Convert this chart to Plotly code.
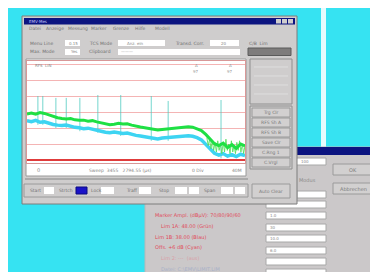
import plotly.graph_objects as go

W, H = 378, 272

# ---------------- data ----------------
freq_mhz = [0.0, 0.8, 1.6, 2.4, 3.2, 4.0, 4.8, 5.6, 6.4, 7.2, 8.0, 8.8, 9.6, 10.4, 11.2,
            12.0, 12.8, 13.6, 14.4, 15.2, 16.0, 16.8, 17.6, 18.4, 19.2, 20.0, 20.8, 21.6,
            22.4, 23.2, 24.0, 24.8, 25.6, 26.4, 27.2, 28.0, 28.8, 29.6, 30.4, 31.2, 32.0,
            32.8, 33.6, 34.4, 35.2, 36.0, 36.8, 37.6, 38.4, 39.2, 40.0]
green_level = [28.8, 29.3, 28.6, 29.6, 29.1, 28.2, 27.0, 26.4, 26.0, 25.7, 25.9, 25.1, 24.8,
               24.9, 24.3, 24.6, 23.8, 23.2, 22.6, 22.0, 22.4, 22.9, 22.5, 22.6, 21.8, 21.0,
               20.6, 20.2, 19.6, 19.1, 18.7, 19.0, 19.3, 19.2, 19.6, 19.9, 20.4, 20.8, 20.5,
               19.6, 18.4, 16.0, 12.8, 10.2, 9.0, 10.5, 7.8, 9.6, 7.2, 10.0, 8.8]
cyan_level = [24.5, 24.0, 24.8, 23.6, 23.9, 23.0, 22.2, 21.8, 21.5, 21.9, 21.0, 20.4, 20.1,
              19.6, 19.9, 19.1, 18.6, 18.0, 17.4, 17.0, 17.5, 17.2, 16.6, 16.9, 16.0, 15.4,
              15.0, 14.6, 14.0, 13.6, 13.2, 13.7, 14.0, 13.8, 14.3, 14.6, 15.0, 15.2, 14.8,
              14.0, 12.6, 10.0, 6.8, 4.2, 3.0, 4.0, 2.4, 3.4, 2.2, 3.6, 2.8]
fuzz_freq = [33.0, 33.25, 33.5, 33.75, 34.0, 34.25, 34.5, 34.75, 35.0, 35.25, 35.5, 35.75,
             36.0, 36.25, 36.5, 36.75, 37.0, 37.25, 37.5, 37.75, 38.0, 38.25, 38.5, 38.75,
             39.0, 39.25, 39.5, 39.75, 40.0]
fuzz_level = [14, 9, 13, 7, 12, 6, 11, 5, 12, 6, 10, 4, 11, 5, 13, 6, 10, 4, 12, 5,
              9, 4, 11, 6, 12, 5, 10, 4, 9]
spike_freq = [2.0, 2.9, 5.3, 7.2, 9.7, 13.0, 17.2, 22.8, 25.9, 35.6]
spike_top = [40.0, 40.0, 38.8, 38.8, 38.8, 40.6, 40.6, 40.0, 36.9, 37.5]
spike_base = [22.0, 22.0, 20.0, 20.0, 18.0, 17.0, 15.0, 12.0, 12.0, 1.0]

menu_items = ["Datei", "Anzeige", "Messung", "Marker", "Grenze", "Hilfe", "Modell"]
side_buttons = ["Trg Clr", "RFS Sh A", "RFS Sh B", "Save Clr", "C.Rng 1", "C.Vrgl"]
dialog_lines = ["Marker Ampl. (dBµV): 70/80/90/60",
                "Lim 1A: 48.00 (Grün)",
                "Lim 1B: 38.00 (Blau)",
                "Offs. +6 dB (Cyan)",
                "Lim 2: ---  (aus)",
                "Datei: C:\\EMV\\LIMIT.LIM"]
dialog_values = ["", "1.0", "30", "10.0", "6.0", "", ""]

# ---------------- helpers ----------------
shapes, annos = [], []
FONT = "DejaVu Sans"


def px(x):
    return x / W


def py(y):
    return 1 - y / H


def rect(x0, y0, x1, y1, fill, line=None, lw=0):
    shapes.append(dict(type="rect", xref="paper", yref="paper",
                       x0=px(x0), x1=px(x1), y0=py(y1), y1=py(y0),
                       fillcolor=fill, line=dict(color=line or fill, width=lw),
                       layer="below"))


def hline(x0, x1, y, color, lw=1):
    shapes.append(dict(type="line", xref="paper", yref="paper",
                       x0=px(x0), x1=px(x1), y0=py(y), y1=py(y),
                       line=dict(color=color, width=lw), layer="below"))


def text(x, y, s, size=5, color="#707070", anchor="left"):
    annos.append(dict(xref="paper", yref="paper", x=px(x), y=py(y), text=s,
                      showarrow=False, xanchor=anchor, yanchor="middle",
                      borderpad=0, font=dict(size=size, color=color, family=FONT)))


def button(x0, y0, x1, y1, label=None, size=5):
    rect(x0, y0, x1, y1, "#d2d0d0", "#9a9a9a", 1)
    if label:
        text((x0 + x1) / 2, (y0 + y1) / 2, label, size, "#7a7a7a", "center")


# ---------------- background ----------------
rect(313, 0, 318, 142, "#e6fbfd")

# ---------------- dialog behind ----------------
rect(137, 139, 372, 273, "#cbc8c9", "#b8b8b8", 1)
rect(138, 139, 371, 147, "#0c1480")
rect(288, 150, 318, 157, "#ffffff", "#a8a8a8", 1)
text(292, 153.5, "100", 4, "#8a8a8a")
text(290, 172, "Modus", 5, "#8a8a8a")
rect(289, 183, 318, 190, "#ffffff", "#a8a8a8", 1)
for yy, val in zip([196, 207, 219, 230, 242, 253, 264], dialog_values):
    rect(258, yy - 3, 318, yy + 4, "#ffffff", "#a8a8a8", 1)
    if val:
        text(261, yy + 0.5, val, 4, "#8a8a8a")
button(325, 156, 365, 167, "OK")
button(325, 175, 365, 186, "Abbrechen")
dialog_colors = ["#e04a5a", "#e04a5a", "#e04a5a", "#e04a5a", "#d9a0a8", "#a8b0c8"]
for i, (s, c) in enumerate(zip(dialog_lines, dialog_colors)):
    text(146 if i in (0, 2, 3) else 152, 207 + i * 10.8, s, 5, c)

# ---------------- main window ----------------
rect(14, 8, 289, 196, "#cfcdcd", "#7d7d7d", 1)
rect(16, 10, 287, 16.5, "#0c1480")
text(20, 13.2, "EMV-Mes", 4, "#c8c8ff")
for xx in [268, 274, 280]:
    rect(xx, 11, xx + 5, 15.5, "#cfcdcd")
for s, xx in zip(menu_items, [20, 37, 59, 82, 104, 126, 146]):
    text(xx, 21, s, 4.5, "#777777")
# row 1
text(21, 35, "Menu Line", 4.5)
rect(57, 32, 72, 38, "#ffffff")
text(60, 35, "0.15", 4, "#888")
text(80, 35, "TCS Mode", 4.5)
rect(110, 32, 157, 38, "#ffffff")
text(118, 35, "Anz. ein", 4, "#888")
text(166, 35, "Transd. Corr.", 4.5)
rect(202, 32, 231, 38, "#ffffff")
text(216, 35, "20", 4, "#888", "center")
text(240, 35, "C/B  Lim", 4.5)
# row 2
text(21, 44, "Max. Mode", 4.5)
rect(57, 41, 72, 47, "#ffffff")
text(61, 44, "Yes", 4, "#888")
text(80, 44, "Clipboard", 4.5)
rect(110, 41, 232, 47, "#ffffff")
text(112, 44, "———", 4, "#999")
rect(240, 40, 283, 47.5, "#7e7c7c", "#5a5a5a", 1)

# plot block
rect(18, 51, 238, 168, "#ffffff", "#9a9a9a", 1)
text(28, 162, "0", 5, "#888")
text(112, 162, "Sweep  3455   2794.55 (µs)", 4.5, "#888", "center")
text(190, 162, "0 Div", 4.5, "#888", "center")
text(229, 162, "40M", 4.5, "#888", "center")
text(26, 57.5, "RFS  LIN", 4, "#888")
text(188, 57, "Δ", 4, "#999", "center")
text(188, 63, "97", 4, "#999", "center")
text(222, 57, "Δ", 4, "#999", "center")
text(222, 63, "97", 4, "#999", "center")
hline(17, 240, 171, "#aaaaaa", 2)

# status bar
rect(16, 176, 240, 189, "#cfcdcd", "#9a9a9a", 1)
text(21, 182.5, "Start", 4.5)
rect(36, 179, 46, 186, "#ffffff")
text(50, 182.5, "Strtch", 4.5)
rect(68, 179, 79, 186, "#1a12c8", "#0a0a80", 1)
text(82, 182.5, "Lock", 4.5)
rect(93, 179, 106, 186, "#ffffff")
text(117, 182.5, "Traff", 4.5)
rect(131, 179, 143, 186, "#ffffff")
text(150, 182.5, "Stop", 4.5)
rect(167, 179, 179, 186, "#ffffff")
rect(181, 179, 191, 186, "#ffffff")
text(195, 182.5, "Span", 4.5)
rect(213, 179, 225, 186, "#ffffff")
rect(227, 179, 237, 186, "#ffffff")

# right panel
rect(242, 51, 284, 96, "#cfcdcd", "#8f8f8f", 1)
for yy in [59, 68, 77, 86]:
    hline(246, 280, yy, "#dedede", 1)
rect(242, 98, 284, 161, "#cfcdcd", "#8f8f8f", 1)
for i, s in enumerate(side_buttons):
    y0 = 100 + i * 10
    button(244, y0, 282, y0 + 9, s, 4.5)
button(244, 176, 282, 190, "Auto Clear", 4.5)

# ---------------- traces ----------------
spike_x, spike_y = [], []
for f, b, t in zip(spike_freq, spike_base, spike_top):
    spike_x += [f, f, None]
    spike_y += [b, t, None]

fig = go.Figure()
fig.add_trace(go.Scatter(x=spike_x, y=spike_y, mode="lines",
                         line=dict(color="rgba(70,200,190,0.75)", width=1),
                         hoverinfo="skip", showlegend=False))
fig.add_trace(go.Scatter(x=freq_mhz, y=cyan_level, mode="lines",
                         line=dict(color="#3dd4f2", width=3.5),
                         showlegend=False))
fig.add_trace(go.Scatter(x=fuzz_freq, y=fuzz_level, mode="lines",
                         line=dict(color="rgba(80,225,90,0.85)", width=1),
                         showlegend=False))
fig.add_trace(go.Scatter(x=freq_mhz, y=green_level, mode="lines",
                         line=dict(color="#1ee044", width=3),
                         showlegend=False))

fig.update_layout(
    width=W, height=H, margin=dict(l=0, r=0, t=0, b=0, pad=0),
    paper_bgcolor="#36e3f2", plot_bgcolor="#ffffff",
    shapes=shapes, annotations=annos,
    xaxis=dict(domain=[px(19), px(237)], range=[0, 40], showgrid=False,
               showticklabels=False, zeroline=False, showline=True, mirror=True,
               linecolor="#d89898", linewidth=1, fixedrange=True),
    yaxis=dict(domain=[py(155), py(53)], range=[-1.875, 61.875], dtick=10,
               showgrid=True, gridcolor="#f4b4b4", gridwidth=1,
               showticklabels=False, zeroline=True, zerolinecolor="#e03c3c",
               zerolinewidth=2, showline=True, mirror=True,
               linecolor="#d89898", linewidth=1, fixedrange=True),
)

fig.write_html("out.html")
